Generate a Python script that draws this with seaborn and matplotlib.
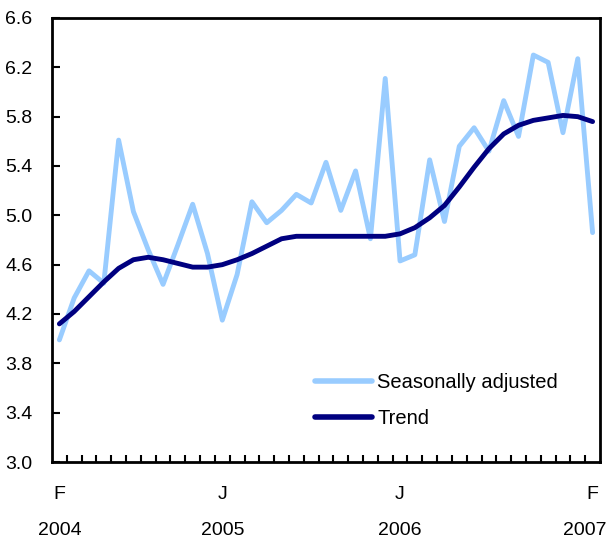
import matplotlib
matplotlib.use("Agg")
import matplotlib.pyplot as plt
import pandas as pd
import seaborn as sns

# Monthly values, Feb 2004 to Feb 2007
month_index = list(range(37))
seasonally_adjusted = [3.99, 4.33, 4.55, 4.45, 5.61, 5.03, 4.72, 4.44, 4.76, 5.09,
                       4.69, 4.15, 4.52, 5.11, 4.94, 5.04, 5.17, 5.10, 5.43, 5.04,
                       5.36, 4.81, 6.11, 4.63, 4.68, 5.45, 4.95, 5.56, 5.71, 5.52,
                       5.93, 5.64, 6.30, 6.24, 5.67, 6.27, 4.86]
trend = [4.12, 4.22, 4.34, 4.46, 4.57, 4.64, 4.66, 4.64, 4.61, 4.58,
         4.58, 4.60, 4.64, 4.69, 4.75, 4.81, 4.83, 4.83, 4.83, 4.83,
         4.83, 4.83, 4.83, 4.85, 4.90, 4.98, 5.08, 5.23, 5.39, 5.54,
         5.66, 5.73, 5.77, 5.79, 5.81, 5.80, 5.76]
tick_positions = [0, 11, 23, 36]
month_labels = ["F", "J", "J", "F"]
year_labels = ["2004", "2005", "2006", "2007"]
y_ticks = [3.0, 3.4, 3.8, 4.2, 4.6, 5.0, 5.4, 5.8, 6.2, 6.6]

df = pd.DataFrame({
    "month": month_index * 2,
    "value": seasonally_adjusted + trend,
    "series": ["Seasonally adjusted"] * 37 + ["Trend"] * 37,
})

sns.set_style("ticks")
plt.rcParams["font.family"] = ["Liberation Sans", "DejaVu Sans"]
plt.rcParams["text.color"] = "black"
plt.rcParams["xtick.color"] = "black"
plt.rcParams["ytick.color"] = "black"

fig = plt.figure(figsize=(6.1, 5.42), dpi=100)
ax = fig.add_axes([0.0852, 0.1476, 0.8984, 0.8192])

sns.lineplot(data=df, x="month", y="value", hue="series",
             palette={"Seasonally adjusted": "#99ccff", "Trend": "#000080"},
             linewidth=3.5, ax=ax, legend=True)

ax.set_xlim(-0.5, 36.5)
ax.set_ylim(3.0, 6.6)
ax.set_xlabel("")
ax.set_ylabel("")

ax.set_yticks(y_ticks)
ax.set_yticklabels([f"{v:.1f}" for v in y_ticks], fontsize=14)
ax.tick_params(axis="y", direction="in", length=6, width=1.5, pad=14)

ax.set_xticks(tick_positions)
ax.set_xticklabels(month_labels, fontsize=14)
ax.set_xticks([k - 0.5 for k in range(1, 37)], minor=True)
ax.tick_params(axis="x", which="major", length=0, pad=17)
ax.tick_params(axis="x", which="minor", direction="in", length=5, width=1.5)

# years on a second row under the month letters
for i, (pos, year) in enumerate(zip(tick_positions, year_labels)):
    last = i == len(tick_positions) - 1
    ax.annotate(year, xy=(pos, 0), xycoords=ax.get_xaxis_transform(),
                xytext=(10 if last else 0, -49), textcoords="offset points",
                ha="right" if last else "center", va="center", fontsize=14,
                color="black")

for spine in ax.spines.values():
    spine.set_visible(True)
    spine.set_linewidth(2)
    spine.set_color("black")

leg = ax.legend(loc="upper left", bbox_to_anchor=(0.48, 0.2), frameon=False,
                fontsize=14.5, handlelength=2.85, handletextpad=0.25,
                labelspacing=0.85, borderpad=0, borderaxespad=0)
for line in leg.get_lines():
    line.set_linewidth(4)
for text in leg.get_texts():
    text.set_color("black")

fig.savefig("out.png", dpi=100)
